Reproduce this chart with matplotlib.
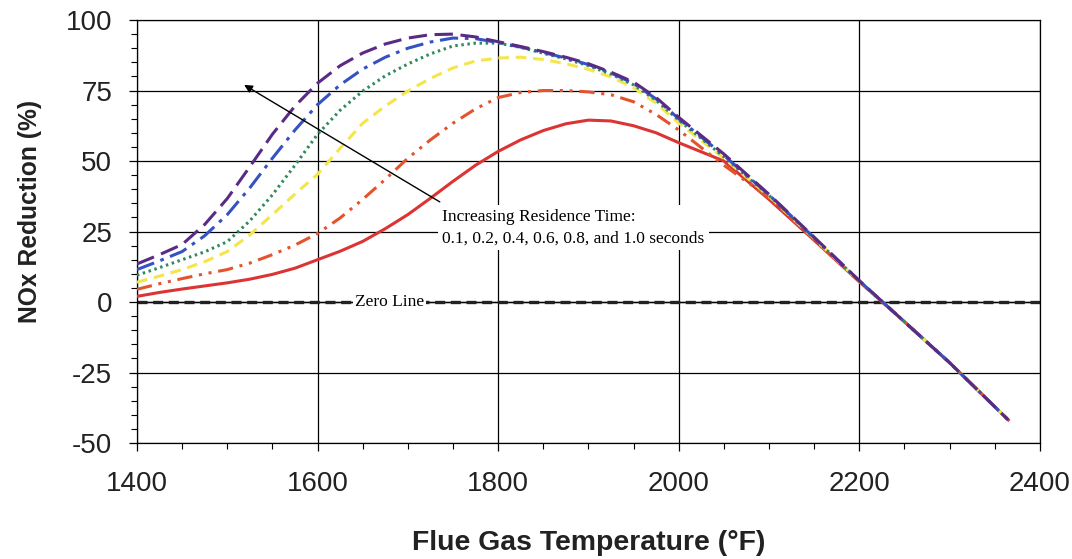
import matplotlib.pyplot as plt
from matplotlib.ticker import MultipleLocator

plt.rcParams['axes.unicode_minus'] = False

# flue gas temperature (F)
temps = [1400, 1425, 1450, 1475, 1500, 1525, 1550, 1575, 1600, 1625, 1650,
         1675, 1700, 1725, 1750, 1775, 1800, 1825, 1850, 1875, 1900, 1925,
         1950, 1975, 2000, 2050, 2100, 2150, 2200, 2250, 2300, 2365]

# NOx reduction (%) for each residence time
red_01 = [2.0, 3.4, 4.6, 5.7, 6.8, 8.1, 9.8, 12.0, 15.0, 18.0, 21.5,
          26.0, 31.0, 36.8, 42.8, 48.5, 53.4, 57.5, 60.8, 63.2, 64.5, 64.2,
          62.5, 60.0, 56.5, 50.0, 36.4, 21.9, 7.2, -7.0, -21.5, -41.8]
red_02 = [4.5, 6.5, 8.3, 10.0, 11.5, 13.8, 16.8, 20.2, 24.3, 29.8, 36.4,
          43.5, 51.0, 57.5, 63.4, 68.5, 72.5, 74.3, 75.0, 75.0, 74.5, 73.5,
          71.0, 66.5, 61.0, 48.5, 37.0, 22.2, 7.3, -7.0, -21.5, -41.8]
red_04 = [7.0, 9.2, 11.5, 14.3, 17.9, 23.8, 31.0, 38.3, 45.3, 54.5, 63.4,
          69.5, 74.8, 79.3, 83.0, 85.5, 86.5, 86.8, 86.0, 84.5, 82.5, 79.8,
          76.0, 70.5, 63.5, 51.0, 37.5, 22.5, 7.4, -7.0, -21.5, -41.8]
red_06 = [9.5, 12.2, 15.0, 17.8, 21.4, 28.8, 38.0, 48.5, 59.5, 68.0, 74.8,
          80.2, 84.4, 88.0, 90.8, 91.8, 91.8, 90.3, 88.2, 86.2, 83.8, 80.8,
          77.0, 71.5, 64.5, 51.5, 37.8, 22.6, 7.5, -7.0, -21.5, -41.8]
red_08 = [11.5, 14.6, 17.9, 23.5, 31.0, 40.5, 51.0, 61.0, 70.0, 77.0, 82.6,
          86.8, 90.0, 92.2, 93.6, 93.4, 92.0, 90.4, 88.5, 86.5, 84.2, 81.2,
          77.5, 72.0, 65.0, 52.0, 38.0, 22.8, 7.5, -7.0, -21.5, -41.8]
red_10 = [13.5, 16.8, 20.4, 27.5, 36.7, 48.0, 59.5, 69.5, 77.6, 83.8, 88.3,
          91.5, 93.6, 94.8, 95.0, 94.0, 92.3, 90.6, 88.8, 86.8, 84.5, 81.5,
          78.0, 72.5, 65.5, 52.5, 38.2, 23.0, 7.6, -7.0, -21.5, -41.8]

series = [
    (red_01, '#dc3333', '-'),
    (red_02, '#e4532c', (0, (5, 2.2, 1, 2.2, 1, 2.2))),
    (red_04, '#f4e64a', (0, (3.5, 2.2))),
    (red_06, '#2f8a5c', (0, (0.8, 1.2))),
    (red_08, '#3552c4', (0, (6, 2.2, 1.2, 2.2))),
    (red_10, '#5a2b86', (0, (6, 2.5))),
]

fig = plt.figure(figsize=(10.72, 5.59), dpi=100)
ax = fig.add_axes([0.1278, 0.2075, 0.8422, 0.7567])

ax.set_xlim(1400, 2400)
ax.set_ylim(-50, 100)
ax.xaxis.set_major_locator(MultipleLocator(200))
ax.xaxis.set_minor_locator(MultipleLocator(50))
ax.yaxis.set_major_locator(MultipleLocator(25))
ax.yaxis.set_minor_locator(MultipleLocator(5))
ax.grid(True, which='major', color='black', linewidth=0.9, zorder=0)
for s in ax.spines.values():
    s.set_linewidth(0.9)
ax.tick_params(which='major', direction='out', length=6, width=0.9,
               labelsize=20)
ax.tick_params(axis='x', which='major', pad=14)
ax.tick_params(axis='y', which='major', pad=12)
ax.tick_params(which='minor', direction='out', length=4, width=0.8)
for lab in ax.get_xticklabels() + ax.get_yticklabels():
    lab.set_fontfamily('Liberation Sans')
    lab.set_color('#222222')

# zero line: thin solid with thick dashes on top
ax.axhline(0, color='black', linewidth=1.0, zorder=2)
ax.axhline(0, color='#222222', linewidth=2.4, linestyle=(0, (3, 1.7)), zorder=2)

for vals, col, ls in series:
    ax.plot(temps, vals, color=col, linestyle=ls, linewidth=2.2, zorder=3)

serif = 'Liberation Serif'
ax.text(1680, 0, 'Zero Line', fontfamily=serif, fontsize=12.5,
        ha='center', va='center', zorder=4,
        bbox=dict(facecolor='white', edgecolor='none', pad=1.5))
ax.text(1738, 26.4, 'Increasing Residence Time:\n0.1, 0.2, 0.4, 0.6, 0.8, and 1.0 seconds',
        fontfamily=serif, fontsize=12.5, ha='left', va='center', linespacing=1.45,
        zorder=4, bbox=dict(facecolor='white', edgecolor='none', pad=3))
ax.annotate('', xy=(1516, 77.5), xytext=(1738, 35),
            arrowprops=dict(arrowstyle='-|>', color='black', lw=1.0,
                            mutation_scale=12), zorder=5)

ax.set_xlabel('Flue Gas Temperature (°F)', fontfamily='Liberation Sans',
              fontsize=20.4, fontweight='bold', labelpad=24, color='#222222')
ax.set_ylabel('NOx Reduction (%)', fontfamily='Liberation Sans',
              fontsize=17.7, fontweight='bold', color='#222222')
ax.yaxis.set_label_coords(-0.105, 0.548)

fig.savefig('out.png', dpi=100)
